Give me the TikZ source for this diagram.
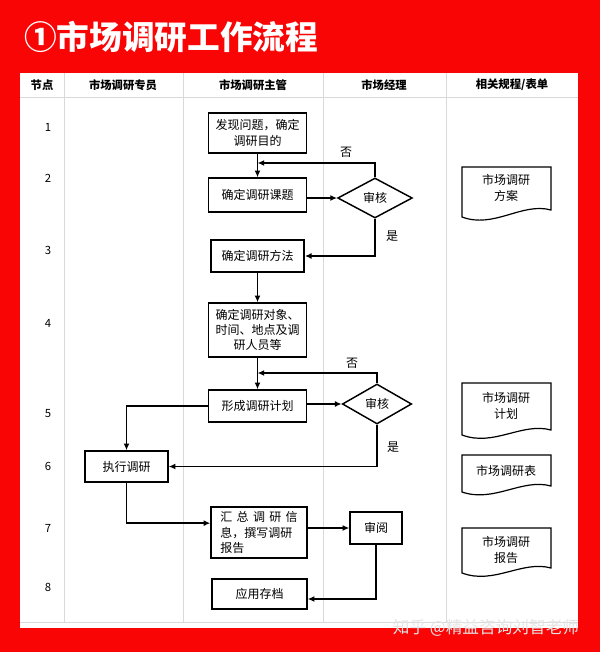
\documentclass[tikz,border=0pt]{standalone}
\usepackage{fontspec}
\setmainfont{Noto Sans CJK SC}
\usetikzlibrary{shapes.geometric,arrows.meta}
\definecolor{bgred}{HTML}{FA0505}
\definecolor{gridgray}{HTML}{D9D9D9}
\begin{document}
\begin{tikzpicture}[x=0.75pt,y=-0.75pt,
  box/.style={draw, line width=1.1pt, inner sep=1pt, align=center, font=\fontsize{9pt}{11.5pt}\selectfont},
  dia/.style={draw, diamond, line width=1.1pt, inner sep=0pt, font=\fontsize{9pt}{11pt}\selectfont},
  doc/.style={draw, line width=0.9pt},
  doctext/.style={align=center, font=\fontsize{9pt}{12pt}\selectfont},
  hdr/.style={font=\bfseries\fontsize{8.5pt}{10pt}\selectfont},
  num/.style={font=\fontsize{8.5pt}{10pt}\selectfont},
  lbl/.style={font=\fontsize{9pt}{10pt}\selectfont},
  grid/.style={draw=gridgray, line width=0.7pt},
  arr/.style={line width=1.1pt, -{Latex[length=5pt,width=4.5pt]}},
  ln/.style={line width=1.1pt}
]
\fill[bgred] (0,0) rectangle (600,652);
\useasboundingbox (0,0) rectangle (600,652);
\node[anchor=west, text=white, inner sep=0pt, font=\bfseries\fontsize{24.5pt}{25pt}\selectfont] (title) at (24,37) {①市场调研工作流程};
% panel and grid
\fill[white] (20,73) rectangle (578,628);
\draw[grid] (20,97) -- (578,97);
\draw[grid] (20,622) -- (578,622);
\foreach \cx in {64,183,323,446} \draw[grid] (\cx,73) -- (\cx,622);
% headers
\node[hdr] (h1) at (42,85) {节点};
\node[hdr] (h2) at (123,85) {市场调研专员};
\node[hdr] (h3) at (253,85) {市场调研主管};
\node[hdr] (h4) at (384,85) {市场经理};
\node[hdr] (h5) at (512,85) {相关规程/表单};
% row numbers
\node[num] (n1) at (48,127) {1};
\node[num] (n2) at (48,178) {2};
\node[num] (n3) at (48,250) {3};
\node[num] (n4) at (48,323) {4};
\node[num] (n5) at (48,414) {5};
\node[num] (n6) at (48,466) {6};
\node[num] (n7) at (48,528) {7};
\node[num] (n8) at (48,587) {8};
% boxes
\node[box, minimum width=73.5pt, minimum height=30pt] (b1) at (257.5,133) {发现问题，确定\\调研目的};
\node[box, minimum width=73.5pt, minimum height=25.5pt] (b2) at (257.5,195) {确定调研课题};
\node[box, minimum width=70pt, minimum height=24pt] (b3) at (257.5,256) {确定调研方法};
\node[box, minimum width=73.5pt, minimum height=40.5pt] (b4) at (257.5,330) {确定调研对象、\\时间、地点及调\\研人员等};
\node[box, minimum width=73.5pt, minimum height=24pt] (b5) at (257.5,406) {形成调研计划};
\node[box, minimum width=62.25pt, minimum height=23.25pt] (b6) at (126.5,466.5) {执行调研};
\node[box, minimum width=72pt, minimum height=38.25pt, align=left] (b7) at (259,532.5) {\makebox[58pt][l]{汇\hfill 总\hfill 调\hfill 研\hfill 信}\\息，撰写调研\\报告};
\node[box, minimum width=39pt, minimum height=24pt] (sy) at (376,528) {审阅};
\node[box, minimum width=71.25pt, minimum height=22.5pt] (b8) at (259.5,594) {应用存档};
% diamonds
\node[dia, minimum width=56pt, minimum height=30pt] (d1) at (375,198) {审核};
\node[dia, minimum width=52pt, minimum height=30pt] (d2) at (377,404) {审核};
% documents
\draw[doc] (462,167) -- (551,167) -- (551,210) .. controls (522,202) and (494,229) .. (462,217) -- cycle;
\node[doctext] (doc1) at (506,188) {市场调研\\方案};
\draw[doc] (462,383) -- (551,383) -- (551,430) .. controls (522,422) and (494,447) .. (462,435) -- cycle;
\node[doctext] (doc2) at (506,406) {市场调研\\计划};
\draw[doc] (462,455) -- (551,455) -- (551,486) .. controls (522,478) and (494,503) .. (462,492) -- cycle;
\node[doctext] (doc3) at (506,471) {市场调研表};
\draw[doc] (462,528) -- (551,528) -- (551,568) .. controls (522,560) and (494,585) .. (462,573) -- cycle;
\node[doctext] (doc4) at (506,550) {市场调研\\报告};
% connectors
\draw[arr] (b1) -- (b2);
\coordinate (fb1) at (257.5,163);
\draw[arr] (d1.north) |- (fb1);
\draw[arr] (d1.west -| b2.east) -- (d1.west);
\draw[arr] (d1.south) |- (b3.east);
\draw[arr] (b3) -- (b4);
\coordinate (fb2) at (257.5,373);
\draw[arr] (d2.north) |- (fb2);
\draw[arr] (b4) -- (b5);
\draw[arr] (d2.west -| b5.east) -- (d2.west);
\draw[arr] (d2.south) |- (b6.east);
\draw[arr] (b5.west) -| (b6.north);
\draw[arr] (b6.south) |- ([yshift=7pt]b7.west);
\draw[arr] (sy.west -| b7.east) -- (sy.west);
\draw[arr] (sy.south) |- ([yshift=-3.75pt]b8.east);
% labels
\node[lbl] (no1) at (346,152) {否};
\node[lbl] (yes1) at (392,236) {是};
\node[lbl] (no2) at (352,363) {否};
\node[lbl] (yes2) at (393,447) {是};
% watermark
\node[text=black!10, font=\fontsize{12.5pt}{13pt}\selectfont] (wm) at (486,628) {知乎 @精益咨询刘智老师};
\end{tikzpicture}
\end{document}
